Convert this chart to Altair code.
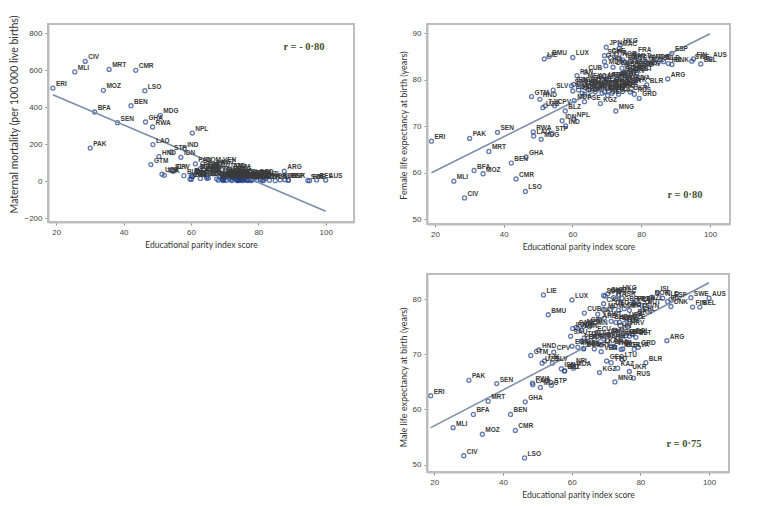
import altair as alt
import pandas as pd

# ---- data ----
codes = ["ERI","MLI","CIV","PAK","BFA","MOZ","MRT","SEN","BEN","CMR","LSO","GHA","RWA","LAO","MDG",
         "GTM","HND","UZB","TJK","LIE","BMU","STP","CPV","SLV","IDN","IND","BLZ","NPL","LUX","MDA",
         "SAU","IRN","JOR","LBN","EGY","MUS","PER","PAN","CUB","DOM","MEX","TUN","PSE","CRI","TUR",
         "OMN","COL","ECU","MYS","PRY","QAT","ARE","KGZ","VEN","LKA","KWT","BRB","URY","JPN","SGP",
         "CAN","MDV","GEO","ARM","CHE","JAM","BHR","BRA","TTO","DEU","ITA","CHN","THA","VNM","MNG",
         "ALB","SRB","KAZ","KOR","MAC","HKG","MNE","ROU","AZE","GBR","ISR","LTU","BGR","BIH","GRC",
         "USA","MKD","HRV","CZE","SVK","PRT","UKR","POL","RUS","MLT","FRA","LVA","BRN","EST","GRD",
         "CYP","CHL","SVN","AUT","BLR","NZL","NOR","ISL","NLD","ARG","IRL","DNK","ESP","SWE","FIN",
         "BEL","AUS"]
epi = [19.0,25.5,28.6,30.1,31.4,34.0,35.7,38.2,42.2,43.6,46.3,46.5,48.6,48.7,50.9,
       48.1,50.5,51.4,52.1,51.8,53.2,54.1,54.8,54.4,57.0,58.0,57.9,60.4,60.1,60.5,
       59.7,60.3,61.8,62.8,60.1,61.8,62.8,61.3,63.7,63.5,63.5,63.7,63.5,64.7,64.7,
       65.2,65.7,66.6,66.6,66.6,67.6,68.1,68.1,68.6,68.6,69.5,69.3,69.7,69.8,69.3,
       69.3,69.7,70.2,70.5,70.5,70.5,71.5,71.5,71.5,71.8,72.2,72.4,72.4,72.4,72.6,
       72.9,73.4,73.4,73.6,73.6,73.9,73.9,74.4,74.4,74.4,74.6,74.6,74.9,75.3,75.3,
       75.8,75.8,76.3,76.8,76.8,76.8,76.8,77.8,78.0,78.1,78.2,78.2,78.4,78.7,79.4,
       79.5,79.7,80.7,81.2,81.6,82.1,83.3,85.0,86.5,87.7,87.9,88.9,88.9,94.7,95.2,
       97.3,100.0]
mm = [503,590,647,179,374,491,604,316,408,599,489,320,293,198,356,
      90,133,38,32,None,None,158,54,57,129,176,30,260,10,25,
      12,25,58,15,33,53,68,94,39,95,38,62,45,25,16,
      17,64,64,40,75,13,6,80,95,30,4,27,15,5,10,
      12,20,36,25,5,60,15,44,63,7,4,27,20,54,44,
      29,12,12,11,5,3,7,31,26,8,5,10,11,11,3,
      14,8,8,4,6,10,24,3,25,9,8,18,23,9,27,
      7,22,9,4,4,15,5,3,7,54,8,6,5,4,3,
      7,6]
fle = [66.8,58.2,54.6,67.4,60.5,59.8,64.6,68.7,62.1,58.7,56.0,63.4,68.8,67.9,67.2,
       76.4,75.8,74.0,74.4,84.5,85.0,68.5,74.4,77.8,71.2,70.1,73.3,71.5,84.8,75.5,
       78.7,79.0,79.2,78.5,77.6,77.8,77.1,80.9,81.6,76.9,79.9,78.3,75.3,79.6,77.8,
       78.5,79.2,79.7,78.1,77.4,79.9,78.5,74.9,78.9,77.1,78.5,77.4,80.2,87.0,85.2,
       83.9,83.0,76.6,80.1,85.3,77.6,79.2,78.3,77.1,82.7,85.0,79.6,78.3,77.8,73.3,
       80.3,78.5,76.9,84.6,86.8,87.5,80.7,81.4,78.0,82.5,84.3,79.6,78.9,81.6,83.8,
       83.2,79.6,81.0,82.1,79.2,84.0,77.4,81.7,76.9,84.3,85.5,79.6,82.5,81.4,76.0,
       83.8,82.8,82.5,84.0,78.9,83.5,84.0,83.9,83.9,80.2,83.5,83.3,85.7,84.0,84.5,
       83.4,84.5]
mle = [62.5,56.7,51.6,65.3,59.1,55.5,61.5,64.7,59.1,56.2,51.2,61.4,64.8,64.5,64.0,
       69.8,70.8,68.4,68.8,80.8,77.2,64.4,70.4,68.4,67.4,67.0,67.0,68.1,79.9,67.5,
       73.3,74.7,74.7,74.4,71.5,71.3,72.4,74.9,77.5,71.0,75.1,73.0,71.1,75.6,72.4,
       75.0,73.2,73.8,72.7,71.0,77.3,76.3,66.7,70.5,71.7,76.6,72.8,73.4,80.6,80.7,
       79.2,78.1,68.8,72.5,81.0,73.6,76.0,71.5,68.5,78.6,80.3,74.4,71.4,71.3,65.0,
       75.8,73.0,67.5,78.0,80.8,81.4,75.8,73.4,70.9,79.3,80.2,69.1,71.0,75.6,78.3,
       76.5,73.4,75.0,76.0,73.3,78.0,66.9,73.6,65.7,79.4,79.3,70.9,77.0,73.1,71.3,
       79.2,77.5,78.1,78.8,68.5,79.5,80.4,81.2,80.2,72.5,79.6,78.7,80.0,80.3,78.6,
       78.6,80.2]

# fitted lines, read as end points from the picture
fit_x = [19, 100]
fit_mm = [467, -162]
fit_fle = [60.0, 89.9]
fit_mle = [56.7, 83.0]

df = pd.DataFrame({"code": codes, "epi": epi, "mm": mm, "fle": fle, "mle": mle})

PT = "#22428a"
LINE = "#7b8fa8"
RCOL = "#44522f"
FRAME = "#bdbdbd"


def panel(ycol, ydom, yvals, ytitle, ytsize, ytitle_y, xdom, fity, rtext, rx, ry, w, h):
    xs = alt.Scale(domain=xdom, nice=False, zero=False)
    ys = alt.Scale(domain=ydom, nice=False, zero=False)
    xax = alt.Axis(values=[20, 40, 60, 80, 100], title="Educational parity index score",
                   labelOverlap=False, titleFontSize=8.6)
    yax = alt.Axis(values=yvals, title=ytitle, labelOverlap=False, titleFontSize=ytsize,
                   titleY=ytitle_y)
    base = alt.Chart(df)
    one = alt.Chart(pd.DataFrame({"f": [0]}))
    frame = one.mark_rect(fill="transparent", stroke=FRAME, strokeWidth=2).encode(
        x=alt.value(0), x2=alt.value(w), y=alt.value(0), y2=alt.value(h)
    )
    top_edge = one.mark_rule(color=FRAME, strokeWidth=2).encode(
        x=alt.value(0), x2=alt.value(w), y=alt.value(0)
    )
    right_edge = one.mark_rule(color=FRAME, strokeWidth=2).encode(
        x=alt.value(w), y=alt.value(0), y2=alt.value(h)
    )
    pts = base.mark_point(shape="circle", filled=False, size=16, strokeWidth=1.3, color=PT).encode(
        x=alt.X("epi:Q", scale=xs, axis=xax),
        y=alt.Y(f"{ycol}:Q", scale=ys, axis=yax),
    )
    lab = base.mark_text(align="left", baseline="bottom", dx=3, dy=-1, fontSize=6.5,
                         font="Liberation Sans", fontWeight="bold", color="#3a3a3a").encode(
        x=alt.X("epi:Q", scale=xs, axis=xax),
        y=alt.Y(f"{ycol}:Q", scale=ys, axis=yax),
        text="code:N",
    )
    fdf = pd.DataFrame({"fx": fit_x, "fy": fity})
    fit = alt.Chart(fdf).mark_line(color=LINE, strokeWidth=1.6).encode(
        x=alt.X("fx:Q", scale=xs, axis=xax), y=alt.Y("fy:Q", scale=ys, axis=yax)
    )
    rt = alt.Chart(pd.DataFrame({"t": [rtext]})).mark_text(
        font="Liberation Serif", fontSize=10.5, fontWeight="bold", color=RCOL, align="center"
    ).encode(x=alt.value(rx), y=alt.value(ry), text="t:N")
    return alt.layer(frame, top_edge, right_edge, pts, fit, lab, rt).properties(
        width=w, height=h, view=alt.ViewBackground(stroke=FRAME, strokeWidth=2)
    )


tl = panel("mm", [-220, 849], [-200, 0, 200, 400, 600, 800],
           "Maternal mortality (per 100 000 live births)", 10.5, 90, [17.55, 108.4], fit_mm,
           "r = - 0\u00b780", 256, 23, 306, 198)
tr = panel("fle", [49.0, 92.0], [50, 60, 70, 80, 90],
           "Female life expectancy at birth (years)", 9.0, 101, [17.7, 105.8], fit_fle,
           "r = 0\u00b780", 258, 171, 303, 200)
br = panel("mle", [48.65, 84.6], [50, 60, 70, 80],
           "Male life expectancy at birth (years)", 9.0, 103, [17.9, 105.8], fit_mle,
           "r = 0\u00b775", 257, 170, 302, 198)

empty = alt.Chart(pd.DataFrame({"a": [0]})).mark_point(opacity=0).encode(
    x=alt.value(0), y=alt.value(0)
).properties(width=10, height=10, view=alt.ViewBackground(stroke="transparent"))

chart = alt.concat(tl, tr, empty, br, columns=2, spacing={"row": 18, "column": 42}).properties(
    padding={"left": 0, "top": 5, "right": 5, "bottom": 5}
).configure_axis(
    grid=False, domain=True, domainColor=FRAME, domainWidth=2,
    tickColor="#8c8c8c", tickSize=3, labelPadding=3,
    labelFont="Liberation Sans", labelFontSize=8, labelColor="#444444", labelOverlap=False,
    titleFont="Lato", titleFontWeight="normal", titleColor="#333333",
    titlePadding=4
)

chart.save("out.html", embed_options={"renderer": "svg", "actions": False})
